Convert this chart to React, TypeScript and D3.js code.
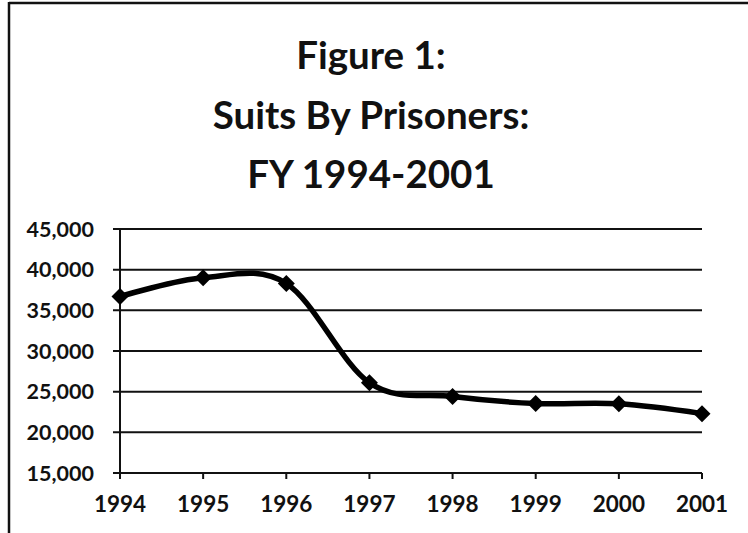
import React from "react";
import * as d3 from "d3";

const years = [1994, 1995, 1996, 1997, 1998, 1999, 2000, 2001];
const suits = [36700, 39000, 38300, 26100, 24400, 23550, 23500, 22300];
const yTicks = [15000, 20000, 25000, 30000, 35000, 40000, 45000];
const titleLines = ["Figure 1:", "Suits By Prisoners:", "FY 1994-2001"];

const W = 748;
const H = 533;
const font = "Lato, 'Open Sans', sans-serif";

export default function App() {
  const x = d3.scaleLinear().domain([1994, 2001]).range([120, 702]);
  const y = d3.scaleLinear().domain([15000, 45000]).range([473, 229]);
  const fmt = d3.format(",");

  const pts: [number, number][] = years.map((yr, i) => [x(yr), y(suits[i])]);
  const line = d3.line().curve(d3.curveCatmullRom.alpha(0))(pts) || "";

  return (
    <svg
      width={W}
      height={H}
      style={{ position: "absolute", left: 0, top: 0, background: "#fff" }}
    >
      {/* frame */}
      <line x1={9} x2={W} y1={3} y2={3} stroke="#111" strokeWidth={2.5} />
      <line x1={9} x2={9} y1={2} y2={H} stroke="#111" strokeWidth={2.5} />

      {titleLines.map((t, i) => (
        <text
          key={t}
          x={371}
          y={69 + i * 59.5}
          textAnchor="middle"
          fontFamily={font}
          fontWeight={700}
          fontSize={38.5}
          fill="#111"
        >
          {t}
        </text>
      ))}

      {/* gridlines + y ticks */}
      {yTicks.map((v) => (
        <g key={v}>
          <line x1={113} x2={702} y1={y(v)} y2={y(v)} stroke="#111" strokeWidth={2} />
          <text
            x={94}
            y={y(v) + 7.5}
            textAnchor="end"
            fontFamily={font}
            fontWeight={700}
            fontSize={21.5}
            fill="#111"
          >
            {fmt(v)}
          </text>
        </g>
      ))}

      {/* y axis */}
      <line x1={120} x2={120} y1={229} y2={476} stroke="#111" strokeWidth={2} />

      {/* x ticks + labels */}
      {years.map((yr) => (
        <g key={yr}>
          <line x1={x(yr)} x2={x(yr)} y1={473} y2={479} stroke="#111" strokeWidth={2} />
          <text
            x={x(yr)}
            y={512}
            textAnchor="middle"
            fontFamily={font}
            fontWeight={700}
            fontSize={22.5}
            fill="#111"
          >
            {yr}
          </text>
        </g>
      ))}

      <path d={line} fill="none" stroke="#000" strokeWidth={5.5} strokeLinejoin="round" />

      {pts.map(([px, py], i) => (
        <path
          key={years[i]}
          d={`M${px},${py - 8.5}L${px + 8.5},${py}L${px},${py + 8.5}L${px - 8.5},${py}Z`}
          fill="#000"
        />
      ))}
    </svg>
  );
}
